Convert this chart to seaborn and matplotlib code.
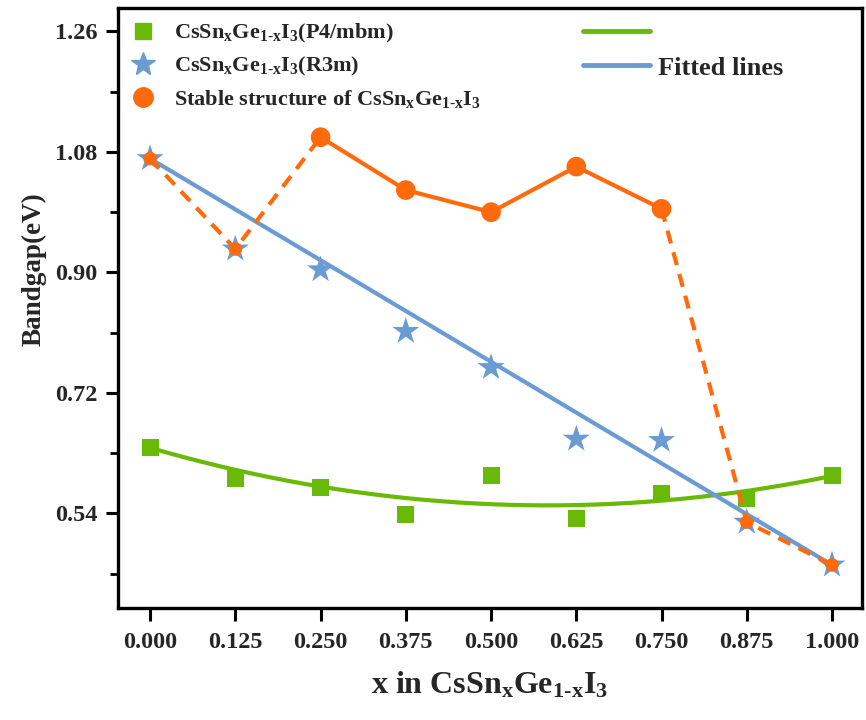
import numpy as np
import pandas as pd
import matplotlib
matplotlib.use("Agg")
import matplotlib.pyplot as plt
from matplotlib.lines import Line2D
from matplotlib.ticker import MultipleLocator
import seaborn as sns

# composition x in CsSn_xGe_(1-x)I_3
x_values = [0.0, 0.125, 0.25, 0.375, 0.5, 0.625, 0.75, 0.875, 1.0]

# band gaps (eV)
gap_p4mbm = [0.638, 0.592, 0.578, 0.539, 0.596, 0.533, 0.570, 0.562, 0.596]
gap_r3m = [1.070, 0.935, 0.904, 0.812, 0.758, 0.651, 0.649, 0.527, 0.463]
gap_stable = [1.070, 0.935, 1.102, 1.023, 0.990, 1.058, 0.995, 0.527, 0.463]

# fitted curves (coefficients, highest power first)
fit_p4mbm = [0.253, -0.295, 0.638]
fit_r3m = [-0.607, 1.070]

x_ticks = [0.0, 0.125, 0.25, 0.375, 0.5, 0.625, 0.75, 0.875, 1.0]
x_ticklabels = ["0.000", "0.125", "0.250", "0.375", "0.500", "0.625", "0.750", "0.875", "1.000"]
y_ticks = [0.54, 0.72, 0.90, 1.08, 1.26]
y_ticklabels = ["0.54", "0.72", "0.90", "1.08", "1.26"]

GREEN = "#68ba06"
BLUE = "#6a9bd2"
ORANGE = "#ff6a0d"

sns.set_theme(style="ticks")
plt.rcParams["font.family"] = ["Liberation Serif", "DejaVu Serif"]
plt.rcParams["font.weight"] = "bold"
plt.rcParams["mathtext.fontset"] = "custom"
plt.rcParams["mathtext.rm"] = "Liberation Serif:bold"
plt.rcParams["mathtext.bf"] = "Liberation Serif:bold"
plt.rcParams["mathtext.it"] = "Liberation Serif:bold"
plt.rcParams["mathtext.default"] = "rm"

formula = r"CsSn$_\mathrm{x}$Ge$_{\text{1-x}}$I$_3$"

df = pd.DataFrame({"x": x_values, "p4mbm": gap_p4mbm, "r3m": gap_r3m, "stable": gap_stable})
xf = np.linspace(0, 1, 200)
fit_df = pd.DataFrame({"x": xf,
                       "p4mbm": np.polyval(fit_p4mbm, xf),
                       "r3m": np.polyval(fit_r3m, xf)})

fig = plt.figure(figsize=(8.66, 7.2), dpi=100)
ax = fig.add_axes([0.1363, 0.1549, 0.8591, 0.834])

# fitted lines
sns.lineplot(data=fit_df, x="x", y="p4mbm", color=GREEN, lw=3, ax=ax, zorder=2)
sns.lineplot(data=fit_df, x="x", y="r3m", color=BLUE, lw=3, ax=ax, zorder=3)

# data markers
sns.scatterplot(data=df, x="x", y="p4mbm", marker="s", s=150, color=GREEN,
                edgecolor="none", ax=ax, zorder=4)
sns.scatterplot(data=df, x="x", y="r3m", marker="*", s=420, color=BLUE,
                edgecolor="none", ax=ax, zorder=4)

# stable structure path
seg_a = df.iloc[0:3]
seg_b = df.iloc[2:7]
seg_c = df.iloc[6:9]
sns.lineplot(data=seg_a, x="x", y="stable", color=ORANGE, lw=3, ax=ax,
             linestyle=(0, (3.2, 2.2)), zorder=5)
sns.lineplot(data=seg_b, x="x", y="stable", color=ORANGE, lw=3, ax=ax, zorder=5)
sns.lineplot(data=seg_c, x="x", y="stable", color=ORANGE, lw=3, ax=ax,
             linestyle=(0, (3.2, 2.2)), zorder=5)
big = df.iloc[2:7]
small = df.iloc[[0, 1, 7, 8]]
sns.scatterplot(data=big, x="x", y="stable", marker="o", s=200, color=ORANGE,
                edgecolor="none", ax=ax, zorder=6)
sns.scatterplot(data=small, x="x", y="stable", marker="o", s=95, color=ORANGE,
                edgecolor="none", ax=ax, zorder=6)

ax.set_xlim(-0.047, 1.044)
ax.set_ylim(0.398, 1.295)
ax.set_xticks(x_ticks)
ax.set_xticklabels(x_ticklabels)
ax.set_yticks(y_ticks)
ax.set_yticklabels(y_ticklabels)
ax.yaxis.set_minor_locator(MultipleLocator(0.09))
ax.tick_params(axis="both", which="major", direction="out", length=9, width=2.2,
               labelsize=17.5, pad=6, color="black")
ax.tick_params(axis="x", which="major", pad=8)
ax.tick_params(axis="y", which="minor", direction="out", length=6, width=2, color="black")
for lab in ax.get_xticklabels() + ax.get_yticklabels():
    lab.set_fontweight("bold")
for sp in ax.spines.values():
    sp.set_linewidth(2.4)
    sp.set_color("black")

ax.set_xlabel("x in " + formula, fontsize=23, fontweight="bold", labelpad=12)
ax.set_ylabel("Bandgap(eV)", fontsize=19.5, fontweight="bold")
ax.yaxis.set_label_coords(-0.096, 0.565)

# legend for data series
h1 = Line2D([], [], marker="s", ls="none", color=GREEN, ms=12)
h2 = Line2D([], [], marker="*", ls="none", color=BLUE, ms=18)
h3 = Line2D([], [], marker="o", ls="none", color=ORANGE, ms=14)
leg1 = ax.legend([h1, h2, h3],
                 [formula + "(P4/mbm)", formula + "(R3m)", "Stable structure of " + formula],
                 loc="upper left", bbox_to_anchor=(0.0168, 0.976), frameon=False,
                 fontsize=16, handlelength=1.12, handletextpad=0.84, labelspacing=0.44,
                 borderpad=0, borderaxespad=0)
ax.add_artist(leg1)

# legend for fitted lines
h4 = Line2D([], [], color=GREEN, lw=3.5)
h5 = Line2D([], [], color=BLUE, lw=3.5)
ax.legend([h4, h5], [" ", "Fitted lines"], loc="upper left",
          bbox_to_anchor=(0.625, 0.977), frameon=False, fontsize=19,
          handlelength=2.54, handletextpad=0.3, labelspacing=0.41,
          borderpad=0, borderaxespad=0)

fig.savefig("out.png", dpi=100)
